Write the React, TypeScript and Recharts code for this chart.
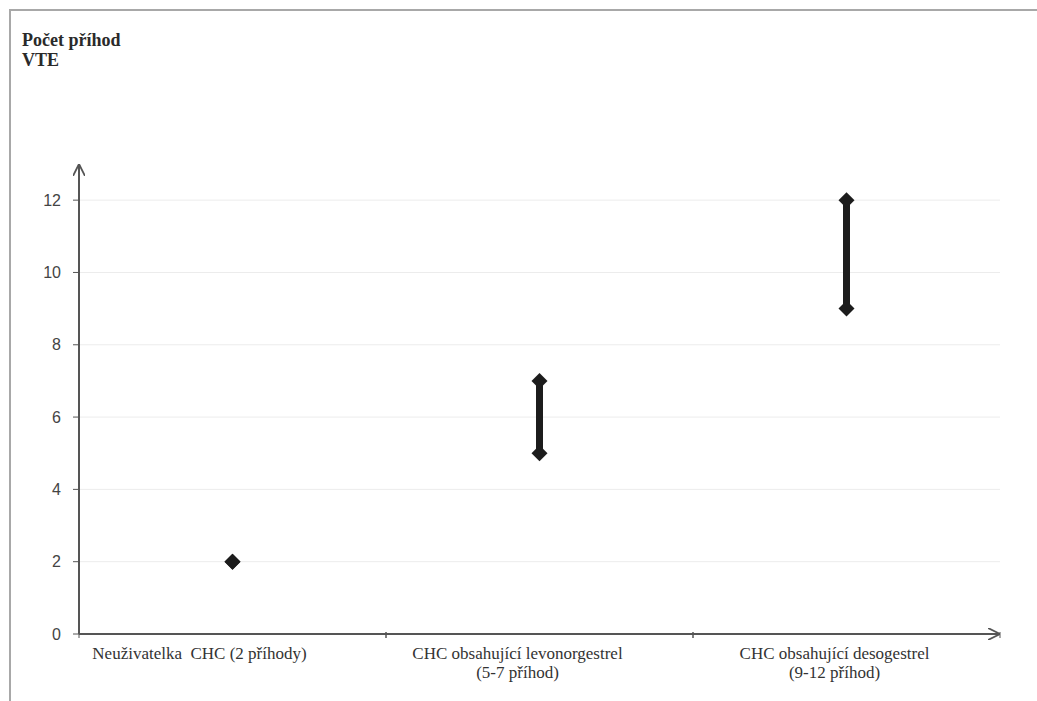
import React from 'react';
import {
  ComposedChart,
  Bar,
  Scatter,
  XAxis,
  YAxis,
  CartesianGrid,
} from 'recharts';

const categories = [
  ['Neuživatelka  CHC (2 příhody)'],
  ['CHC obsahující levonorgestrel', '(5-7 příhod)'],
  ['CHC obsahující desogestrel', '(9-12 příhod)'],
];
const lowValues = [2, 5, 9];
const highValues = [2, 7, 12];
const yTicks = [0, 2, 4, 6, 8, 10, 12];
const gridValues = [2, 4, 6, 8, 10, 12];

const data = categories.map((lines, i) => ({
  name: lines.join('\n'),
  low: lowValues[i],
  high: highValues[i],
  range: [lowValues[i], highValues[i]],
}));

const W = 1037;
const H = 701;
const plotWidth = 921;
const halfBand = plotWidth / categories.length / 2;
// labels in the original sit a bit left of the category centre
const labelShift = [-33, -22, -12];
const axisColor = '#555';
const markColor = '#1c1c1c';

const Diamond = (props: any) => {
  const { cx, cy } = props;
  if (cx == null || cy == null) return null;
  return (
    <polygon
      points={`${cx},${cy - 8} ${cx + 8},${cy} ${cx},${cy + 8} ${cx - 8},${cy}`}
      fill={markColor}
    />
  );
};

const CategoryTick = (props: any) => {
  const { x, y, payload, index } = props;
  const lines = String(payload.value).split('\n');
  const lx = x + (labelShift[index] ?? 0);
  return (
    <g>
      <line x1={x - halfBand} x2={x - halfBand} y1={y - 10} y2={y - 4} stroke={axisColor} />
      <line x1={x + halfBand} x2={x + halfBand} y1={y - 10} y2={y - 4} stroke={axisColor} />
      <text
        x={lx}
        y={y}
        textAnchor="middle"
        fontFamily="'Liberation Serif', serif"
        fontSize={17}
        fill="#333"
        style={{ whiteSpace: 'pre' }}
      >
        {lines.map((l, i) => (
          <tspan key={i} x={lx} dy={i === 0 ? 17 : 19}>
            {l}
          </tspan>
        ))}
      </text>
    </g>
  );
};

export default function App() {
  return (
    <div
      style={{
        position: 'absolute',
        left: 0,
        top: 0,
        width: W,
        height: H,
        background: '#fff',
        overflow: 'hidden',
      }}
    >
      <svg width={0} height={0} style={{ position: 'absolute' }}>
        <defs>
          <marker
            id="arrow"
            viewBox="0 0 10 10"
            refX="10"
            refY="5"
            markerWidth="12"
            markerHeight="12"
            markerUnits="userSpaceOnUse"
            orient="auto-start-reverse"
          >
            <path d="M0,0 L10,5 L0,10" fill="none" stroke={axisColor} strokeWidth={1.5} />
          </marker>
        </defs>
      </svg>
      <div
        style={{
          position: 'absolute',
          left: 9,
          top: 9,
          width: W,
          height: H,
          borderTop: '2px solid #a8a8a8',
          borderLeft: '2px solid #a8a8a8',
        }}
      />
      <div
        style={{
          position: 'absolute',
          left: 22,
          top: 30,
          fontFamily: "'Liberation Serif', serif",
          fontWeight: 'bold',
          fontSize: 18,
          lineHeight: '20px',
          color: '#2a2a2a',
        }}
      >
        Počet příhod
        <br />
        VTE
      </div>
      <div style={{ position: 'absolute', left: 0, top: 0 }}>
        <ComposedChart
          width={W}
          height={H}
          data={data}
          margin={{ top: 164, right: 37, bottom: 12, left: 19 }}
        >
          <CartesianGrid vertical={false} stroke="#ececec" horizontalValues={gridValues} />
          <XAxis
            dataKey="name"
            height={55}
            axisLine={{ stroke: axisColor, strokeWidth: 2, markerEnd: 'url(#arrow)' }}
            tickLine={false}
            tick={<CategoryTick />}
            interval={0}
          />
          <YAxis
            width={60}
            domain={[0, 13]}
            ticks={yTicks}
            allowDataOverflow
            axisLine={{ stroke: axisColor, strokeWidth: 2, markerStart: 'url(#arrow)' }}
            tickLine={{ stroke: axisColor }}
            tickSize={6}
            tickMargin={12}
            tick={{ fontSize: 16, fill: '#444', fontFamily: "'Liberation Sans', sans-serif" }}
          />
          <Bar dataKey="range" barSize={7} fill={markColor} isAnimationActive={false} />
          <Scatter dataKey="low" shape={<Diamond />} isAnimationActive={false} />
          <Scatter dataKey="high" shape={<Diamond />} isAnimationActive={false} />
        </ComposedChart>
      </div>
    </div>
  );
}
